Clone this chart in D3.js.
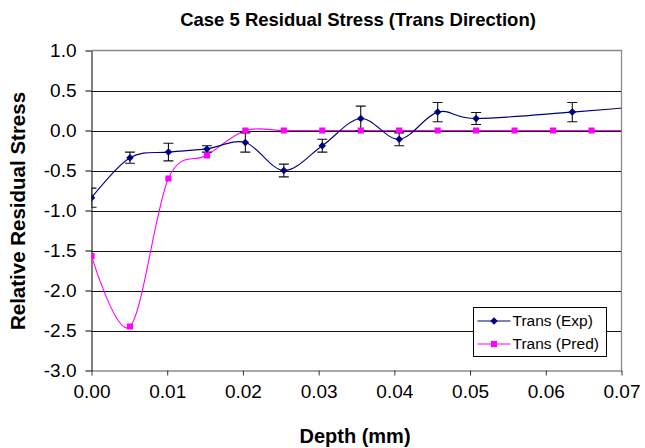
<!DOCTYPE html>
<html>
<head>
<meta charset="utf-8">
<script src="https://cdn.jsdelivr.net/npm/d3@7"></script>
<style>
  html, body { margin: 0; padding: 0; background: #fff; }
  svg { display: block; font-family: "Liberation Sans", Arial, Helvetica, sans-serif; }
</style>
</head>
<body>
<svg id="chart" width="645" height="448"></svg>
<script>
// Depth positions (mm) and measured / predicted relative residual stress
const expDepth = [0, 0.00508, 0.01016, 0.01524, 0.02032, 0.0254, 0.03048, 0.03556, 0.04064, 0.04572, 0.0508, 0.0635, 0.0762];
const expStress = [-0.84, -0.34, -0.27, -0.23, -0.15, -0.50, -0.19, 0.15, -0.11, 0.23, 0.15, 0.23, 0.33];
const expError = [0.12, 0.07, 0.11, 0.04, 0.12, 0.08, 0.08, 0.155, 0.08, 0.12, 0.075, 0.12, 0.12];

const predDepth = [0, 0.00508, 0.01016, 0.01524, 0.02032, 0.0254, 0.03048, 0.03556, 0.04064, 0.04572, 0.0508, 0.05588, 0.06096, 0.06604, 0.07112];
const predStress = [-1.57, -2.45, -0.60, -0.31, 0, 0, 0, 0, 0, 0, 0, 0, 0, 0, 0];

const xTicks = [0, 0.01, 0.02, 0.03, 0.04, 0.05, 0.06, 0.07];
const yTicks = [1.0, 0.5, 0.0, -0.5, -1.0, -1.5, -2.0, -2.5, -3.0];

const seriesNames = ["Trans (Exp)", "Trans (Pred)"];
const chartTitle = "Case 5 Residual Stress (Trans Direction)";
const xTitle = "Depth (mm)";
const yTitle = "Relative Residual Stress";

const expColor = "#000080";
const predColor = "#FF00FF";

const svg = d3.select("#chart");
const pLeft = 91.5, pRight = 621.5, pTop = 50.5, pBottom = 370.5;

const x = d3.scaleLinear().domain([0, 0.07]).range([pLeft, pRight]);
const y = d3.scaleLinear().domain([-3, 1]).range([pBottom, pTop]);

// clip region for the plot area
svg.append("defs").append("clipPath").attr("id", "plotClip")
  .append("rect").attr("x", pLeft).attr("y", pTop - 1).attr("width", pRight - pLeft).attr("height", pBottom - pTop + 2);

// horizontal gridlines
svg.append("g").selectAll("line").data(yTicks.filter(v => v > -3 && v < 1)).join("line")
  .attr("x1", pLeft).attr("x2", pRight)
  .attr("y1", d => Math.round(y(d)) + 0.5).attr("y2", d => Math.round(y(d)) + 0.5)
  .attr("stroke", "#111").attr("stroke-width", 1);

// plot-area border (top and right)
svg.append("path")
  .attr("d", `M${pLeft},${pTop}H${pRight}V${pBottom}`)
  .attr("fill", "none").attr("stroke", "#8a8a8a").attr("stroke-width", 1.3);

// x axis
const xAxis = d3.axisBottom(x).tickValues(xTicks).tickFormat(d => d.toFixed(2)).tickSize(5).tickSizeOuter(0);
const gx = svg.append("g").attr("transform", `translate(0,${pBottom})`).call(xAxis);
gx.select(".domain").attr("stroke", "#555");
gx.selectAll(".tick line").attr("stroke", "#333");
gx.selectAll("text").attr("font-size", 19).attr("fill", "#000").attr("dy", "1.05em")
  .attr("font-family", "Liberation Sans, Arial, sans-serif");

// y axis
const yAxis = d3.axisLeft(y).tickValues(yTicks).tickFormat(d => d.toFixed(1)).tickSize(6).tickSizeOuter(0);
const gy = svg.append("g").attr("transform", `translate(${pLeft},0)`).call(yAxis);
gy.select(".domain").attr("stroke", "#000");
gy.selectAll(".tick line").attr("stroke", "#000");
gy.selectAll("text").attr("font-size", 19).attr("fill", "#000").attr("x", -15)
  .attr("font-family", "Liberation Sans, Arial, sans-serif");

// series lines (smoothed)
const line = d3.line().curve(d3.curveCardinal.tension(0));
const plot = svg.append("g").attr("clip-path", "url(#plotClip)");

plot.append("path")
  .attr("d", line(predDepth.map((d, i) => [x(d), y(predStress[i])])))
  .attr("fill", "none").attr("stroke", predColor).attr("stroke-width", 1.1);

plot.append("path")
  .attr("d", line(expDepth.map((d, i) => [x(d), y(expStress[i])])))
  .attr("fill", "none").attr("stroke", expColor).attr("stroke-width", 1.1);

// error bars on measured values
const eb = plot.append("g").attr("stroke", "#111").attr("stroke-width", 1.1).attr("fill", "none");
expDepth.forEach((d, i) => {
  const cx = x(d), y0 = y(expStress[i] - expError[i]), y1 = y(expStress[i] + expError[i]);
  eb.append("path").attr("d", `M${cx},${y0}V${y1}M${cx - 5},${y0}H${cx + 5}M${cx - 5},${y1}H${cx + 5}`);
});

// markers
const square = d3.symbol().type(d3.symbolSquare).size(38);
const diamond = d3.symbol().type(d3.symbolDiamond2).size(36);

plot.append("g").selectAll("path").data(predDepth.map((d, i) => [d, predStress[i]])).join("path")
  .attr("transform", d => `translate(${x(d[0])},${y(d[1])})`)
  .attr("d", square()).attr("fill", predColor);

plot.append("g").selectAll("path").data(expDepth.map((d, i) => [d, expStress[i]])).join("path")
  .attr("transform", d => `translate(${x(d[0])},${y(d[1])})`)
  .attr("d", diamond()).attr("fill", expColor);

// legend
const lg = svg.append("g").attr("transform", "translate(473.5,307.5)");
lg.append("rect").attr("width", 133).attr("height", 49).attr("fill", "#fff").attr("stroke", "#000").attr("stroke-width", 1);
const rows = [
  { name: seriesNames[0], color: expColor, sym: diamond },
  { name: seriesNames[1], color: predColor, sym: square }
];
rows.forEach((r, i) => {
  const ry = 13.5 + i * 23;
  lg.append("line").attr("x1", 4).attr("x2", 37).attr("y1", ry).attr("y2", ry)
    .attr("stroke", r.color).attr("stroke-width", 1.1);
  lg.append("path").attr("transform", `translate(20.5,${ry})`).attr("d", r.sym()).attr("fill", r.color);
  lg.append("text").attr("x", 39).attr("y", ry).attr("dy", "0.35em")
    .attr("font-size", 15.5).attr("fill", "#000").text(r.name);
});

// titles
svg.append("text").attr("x", 358).attr("y", 26).attr("text-anchor", "middle")
  .attr("font-size", 18.5).attr("font-weight", "bold").text(chartTitle);

svg.append("text").attr("x", 355).attr("y", 443).attr("text-anchor", "middle")
  .attr("font-size", 20).attr("font-weight", "bold").text(xTitle);

svg.append("text").attr("transform", "translate(25,211) rotate(-90)").attr("text-anchor", "middle")
  .attr("font-size", 20.5).attr("font-weight", "bold").text(yTitle);
</script>
</body>
</html>
